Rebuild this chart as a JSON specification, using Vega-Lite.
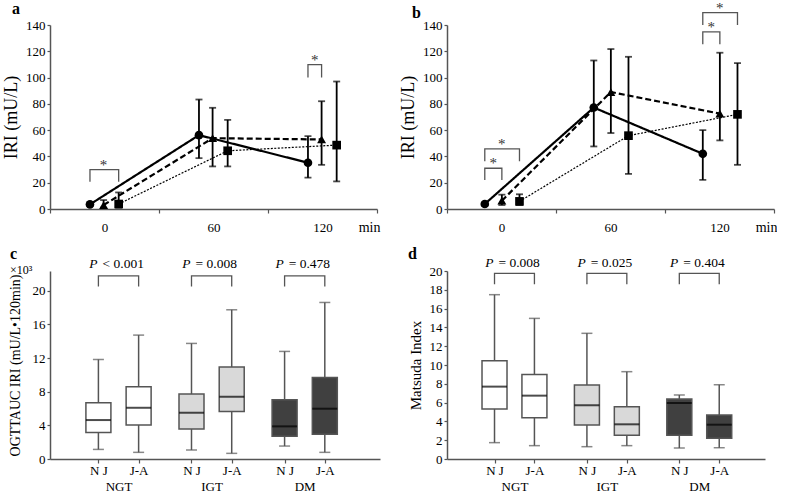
{
  "$schema": "https://vega.github.io/schema/vega-lite/v6.json",
  "padding": {"left": 2, "top": 0, "right": 0, "bottom": 0},
  "columns": 2,
  "spacing": {"row": 62, "column": 67},
  "bounds": "flush",
  "config": {
    "font": "Liberation Serif",
    "view": {"stroke": null},
    "text": {"font": "Liberation Serif"},
    "mark": {"font": "Liberation Serif"},
    "axis": {"grid": false, "labelFont": "Liberation Serif", "titleFont": "Liberation Serif", "domainColor": "#555", "domainWidth": 1.5, "tickColor": "#555", "tickWidth": 1.2, "labelColor": "#000", "titleColor": "#000", "labelFontSize": 13, "titleFontWeight": "normal", "tickSize": 3, "labelPadding": 2, "labelOverlap": false, "labelFlush": false, "labelBound": false},
    "title": {"font": "Liberation Serif", "anchor": "start", "frame": "group", "fontSize": 16, "fontWeight": "bold", "color": "#000", "offset": 2, "subtitleFontSize": 12, "subtitleFontWeight": "normal", "subtitleColor": "#000", "subtitlePadding": 3, "subtitleFont": "Liberation Serif"}
  },
  "datasets": {
    "irA": [
      {"time": 0, "group": "NGT", "mean": 3.5, "lo": 2.5, "hi": 4.5},
      {"time": 0, "group": "IGT", "mean": 3, "lo": 1, "hi": 6.8},
      {"time": 0, "group": "DM", "mean": 3.8, "lo": 1, "hi": 12.6},
      {"time": 60, "group": "NGT", "mean": 56.2, "lo": 38.7, "hi": 83.3},
      {"time": 60, "group": "IGT", "mean": 53.9, "lo": 32.4, "hi": 77},
      {"time": 60, "group": "DM", "mean": 44.3, "lo": 32.4, "hi": 67.8},
      {"time": 120, "group": "NGT", "mean": 35.2, "lo": 23.8, "hi": 55.4},
      {"time": 120, "group": "IGT", "mean": 52.9, "lo": 33.6, "hi": 82},
      {"time": 120, "group": "DM", "mean": 48.6, "lo": 21, "hi": 97}
    ],
    "irB": [
      {"time": 0, "group": "NGT", "mean": 3.8, "lo": 2.5, "hi": 5},
      {"time": 0, "group": "IGT", "mean": 6.3, "lo": 3, "hi": 10.9},
      {"time": 0, "group": "DM", "mean": 5.8, "lo": 3, "hi": 11.2},
      {"time": 60, "group": "NGT", "mean": 77.2, "lo": 47.6, "hi": 113},
      {"time": 60, "group": "IGT", "mean": 89, "lo": 57.8, "hi": 121.7},
      {"time": 60, "group": "DM", "mean": 55.8, "lo": 26.7, "hi": 115.8},
      {"time": 120, "group": "NGT", "mean": 42, "lo": 22.1, "hi": 60},
      {"time": 120, "group": "IGT", "mean": 72.6, "lo": 52.2, "hi": 118.9},
      {"time": 120, "group": "DM", "mean": 72, "lo": 33.6, "hi": 111}
    ],
    "brA": [
      {"id": "a1", "time": 0, "group": "NGT", "v": 20.7, "ord": 1},
      {"id": "a1", "time": 0, "group": "NGT", "v": 30, "ord": 2},
      {"id": "a1", "time": 0, "group": "DM", "v": 30, "ord": 3},
      {"id": "a1", "time": 0, "group": "DM", "v": 20.7, "ord": 4},
      {"id": "a2", "time": 120, "group": "NGT", "v": 100, "ord": 1},
      {"id": "a2", "time": 120, "group": "NGT", "v": 109.8, "ord": 2},
      {"id": "a2", "time": 120, "group": "IGT", "v": 109.8, "ord": 3},
      {"id": "a2", "time": 120, "group": "IGT", "v": 100, "ord": 4}
    ],
    "stA": [
      {"time": 0, "group": "IGT", "v": 30},
      {"time": 120, "group": "NGT|IGT", "v": 109.8}
    ],
    "brB": [
      {"id": "b1", "time": 0, "group": "NGT", "v": 22, "ord": 1},
      {"id": "b1", "time": 0, "group": "NGT", "v": 31, "ord": 2},
      {"id": "b1", "time": 0, "group": "IGT", "v": 31, "ord": 3},
      {"id": "b1", "time": 0, "group": "IGT", "v": 22, "ord": 4},
      {"id": "b2", "time": 0, "group": "NGT", "v": 36.4, "ord": 1},
      {"id": "b2", "time": 0, "group": "NGT", "v": 45.8, "ord": 2},
      {"id": "b2", "time": 0, "group": "DM", "v": 45.8, "ord": 3},
      {"id": "b2", "time": 0, "group": "DM", "v": 36.4, "ord": 4},
      {"id": "b3", "time": 120, "group": "NGT", "v": 125.3, "ord": 1},
      {"id": "b3", "time": 120, "group": "NGT", "v": 134.7, "ord": 2},
      {"id": "b3", "time": 120, "group": "IGT", "v": 134.7, "ord": 3},
      {"id": "b3", "time": 120, "group": "IGT", "v": 125.3, "ord": 4},
      {"id": "b4", "time": 120, "group": "NGT", "v": 140, "ord": 1},
      {"id": "b4", "time": 120, "group": "NGT", "v": 149.4, "ord": 2},
      {"id": "b4", "time": 120, "group": "DM", "v": 149.4, "ord": 3},
      {"id": "b4", "time": 120, "group": "DM", "v": 140, "ord": 4}
    ],
    "stB": [
      {"time": 0, "group": "NGT|IGT", "v": 31},
      {"time": 0, "group": "IGT", "v": 45.8},
      {"time": 120, "group": "NGT|IGT", "v": 134.7},
      {"time": 120, "group": "IGT", "v": 149.4}
    ],
    "boxC": [
      {"group": "NGT", "cohort": "N J", "min": 1.14, "q1": 3.16, "med": 4.63, "q3": 6.69, "max": 11.83},
      {"group": "NGT", "cohort": "J-A", "min": 0.79, "q1": 4.04, "med": 6.09, "q3": 8.59, "max": 14.73},
      {"group": "IGT", "cohort": "N J", "min": 1.07, "q1": 3.56, "med": 5.5, "q3": 7.72, "max": 13.74},
      {"group": "IGT", "cohort": "J-A", "min": 0.67, "q1": 5.66, "med": 7.4, "q3": 10.93, "max": 17.74},
      {"group": "DM", "cohort": "N J", "min": 1.54, "q1": 2.69, "med": 3.88, "q3": 7.05, "max": 12.79},
      {"group": "DM", "cohort": "J-A", "min": 0.79, "q1": 2.93, "med": 5.98, "q3": 9.7, "max": 18.61}
    ],
    "boxD": [
      {"group": "NGT", "cohort": "N J", "min": 1.74, "q1": 5.32, "med": 7.7, "q3": 10.46, "max": 17.48},
      {"group": "NGT", "cohort": "J-A", "min": 1.42, "q1": 4.4, "med": 6.74, "q3": 9.0, "max": 14.96},
      {"group": "IGT", "cohort": "N J", "min": 1.31, "q1": 3.62, "med": 5.71, "q3": 7.87, "max": 13.37},
      {"group": "IGT", "cohort": "J-A", "min": 1.42, "q1": 2.52, "med": 3.69, "q3": 5.57, "max": 9.29},
      {"group": "DM", "cohort": "N J", "min": 1.17, "q1": 2.52, "med": 5.96, "q3": 6.38, "max": 6.81},
      {"group": "DM", "cohort": "J-A", "min": 1.2, "q1": 2.2, "med": 3.65, "q3": 4.68, "max": 7.9}
    ],
    "brC": [
      {"group": "NGT", "cohort": "N J", "v": 20.5, "ord": 1},
      {"group": "NGT", "cohort": "N J", "v": 21.78, "ord": 2},
      {"group": "NGT", "cohort": "J-A", "v": 21.78, "ord": 3},
      {"group": "NGT", "cohort": "J-A", "v": 20.5, "ord": 4},
      {"group": "IGT", "cohort": "N J", "v": 20.5, "ord": 1},
      {"group": "IGT", "cohort": "N J", "v": 21.78, "ord": 2},
      {"group": "IGT", "cohort": "J-A", "v": 21.78, "ord": 3},
      {"group": "IGT", "cohort": "J-A", "v": 20.5, "ord": 4},
      {"group": "DM", "cohort": "N J", "v": 20.5, "ord": 1},
      {"group": "DM", "cohort": "N J", "v": 21.78, "ord": 2},
      {"group": "DM", "cohort": "J-A", "v": 21.78, "ord": 3},
      {"group": "DM", "cohort": "J-A", "v": 20.5, "ord": 4}
    ],
    "brD": [
      {"group": "NGT", "cohort": "N J", "v": 18.6, "ord": 1},
      {"group": "NGT", "cohort": "N J", "v": 19.75, "ord": 2},
      {"group": "NGT", "cohort": "J-A", "v": 19.75, "ord": 3},
      {"group": "NGT", "cohort": "J-A", "v": 18.6, "ord": 4},
      {"group": "IGT", "cohort": "N J", "v": 18.6, "ord": 1},
      {"group": "IGT", "cohort": "N J", "v": 19.75, "ord": 2},
      {"group": "IGT", "cohort": "J-A", "v": 19.75, "ord": 3},
      {"group": "IGT", "cohort": "J-A", "v": 18.6, "ord": 4},
      {"group": "DM", "cohort": "N J", "v": 18.6, "ord": 1},
      {"group": "DM", "cohort": "N J", "v": 19.75, "ord": 2},
      {"group": "DM", "cohort": "J-A", "v": 19.75, "ord": 3},
      {"group": "DM", "cohort": "J-A", "v": 18.6, "ord": 4}
    ],
    "pC": [
      {"group": "NGT", "op": "< 0.001", "v": 23.14},
      {"group": "IGT", "op": "= 0.008", "v": 23.14},
      {"group": "DM", "op": "= 0.478", "v": 23.14}
    ],
    "pD": [
      {"group": "NGT", "op": "= 0.008", "v": 20.8},
      {"group": "IGT", "op": "= 0.025", "v": 20.8},
      {"group": "DM", "op": "= 0.404", "v": 20.8}
    ]
  },
  "concat": [
    {
      "width": 327, "height": 184,
      "title": {"text": "a", "dx": -38, "offset": 2},
      "encoding": {
        "x": {"field": "tx", "type": "quantitative", "scale": {"domain": [-30, 150], "nice": false, "zero": false},
          "axis": {"title": "min", "values": [-30, 0, 30, 60, 90, 120, 150], "tickCount": 20, "labelExpr": "datum.value % 60 === 0 ? datum.label : ''",
            "tickOpacity": {"condition": {"test": "datum.value % 60 === 0", "value": 0}, "value": 1},
            "tickSize": 4, "labelPadding": 8, "titleAnchor": "end", "titleAlign": "right", "titleAngle": 0, "titleX": 330, "titleY": 22, "titleBaseline": "alphabetic", "titleFontSize": 14}}
      },
      "layer": [
        {"data": {"name": "irA"},
          "transform": [{"calculate": "datum.time + (datum.group === 'NGT' ? -8 : datum.group === 'IGT' ? -0.5 : 7.8)", "as": "tx"}],
          "layer": [
            {"mark": {"type": "rule", "color": "black", "strokeWidth": 1.8},
              "encoding": {"y": {"field": "lo", "type": "quantitative", "scale": {"domain": [0, 140]}, "axis": {"title": "IRI (mU/L)", "values": [0, 20, 40, 60, 80, 100, 120, 140], "tickCount": 20, "titleFontSize": 18, "titlePadding": 5}}, "y2": {"field": "hi"}}},
            {"mark": {"type": "tick", "orient": "horizontal", "color": "black", "thickness": 1.8, "size": 7}, "encoding": {"y": {"field": "lo", "type": "quantitative", "scale": {"domain": [0, 140]}}}},
            {"mark": {"type": "tick", "orient": "horizontal", "color": "black", "thickness": 1.8, "size": 7}, "encoding": {"y": {"field": "hi", "type": "quantitative", "scale": {"domain": [0, 140]}}}},
            {"mark": {"type": "line", "color": "black"},
              "encoding": {"y": {"field": "mean", "type": "quantitative", "scale": {"domain": [0, 140]}},
                "strokeDash": {"field": "group", "type": "nominal", "scale": {"domain": ["NGT", "IGT", "DM"], "range": [[1, 0], [6, 3], [2, 1.5]]}, "legend": null},
                "strokeWidth": {"condition": {"test": "datum.group === 'DM'", "value": 1.2}, "value": 2.2}}},
            {"mark": {"type": "point", "filled": true, "color": "black", "opacity": 1},
              "encoding": {"y": {"field": "mean", "type": "quantitative", "scale": {"domain": [0, 140]}},
                "shape": {"field": "group", "type": "nominal", "scale": {"domain": ["NGT", "IGT", "DM"], "range": ["circle", "triangle-up", "square"]}, "legend": null},
                "size": {"condition": {"test": "datum.group === 'IGT'", "value": 80}, "value": 75}}}
          ]},
        {"data": {"name": "brA"},
          "transform": [{"calculate": "datum.time + (datum.group === 'NGT' ? -8 : datum.group === 'IGT' ? -0.5 : 7.8)", "as": "tx"}],
          "mark": {"type": "line", "color": "#555", "strokeWidth": 1.3},
          "encoding": {"y": {"field": "v", "type": "quantitative", "scale": {"domain": [0, 140]}}, "detail": {"field": "id"}, "order": {"field": "ord"}}},
        {"data": {"name": "stA"},
          "transform": [{"calculate": "datum.time + (datum.group === 'NGT|IGT' ? -4.2 : datum.group === 'IGT' ? -0.5 : 0)", "as": "tx"}],
          "mark": {"type": "text", "text": "*", "fontSize": 15, "color": "#333", "baseline": "alphabetic"},
          "encoding": {"y": {"field": "v", "type": "quantitative", "scale": {"domain": [0, 140]}}}}
      ]
    },
    {
      "width": 327, "height": 184,
      "title": {"text": "b", "dx": -35, "offset": -20},
      "encoding": {
        "x": {"field": "tx", "type": "quantitative", "scale": {"domain": [-30, 150], "nice": false, "zero": false},
          "axis": {"title": "min", "values": [-30, 0, 30, 60, 90, 120, 150], "tickCount": 20, "labelExpr": "datum.value % 60 === 0 ? datum.label : ''",
            "tickOpacity": {"condition": {"test": "datum.value % 60 === 0", "value": 0}, "value": 1},
            "tickSize": 4, "labelPadding": 8, "titleAnchor": "end", "titleAlign": "right", "titleAngle": 0, "titleX": 330, "titleY": 22, "titleBaseline": "alphabetic", "titleFontSize": 14}}
      },
      "layer": [
        {"data": {"name": "irB"},
          "transform": [{"calculate": "datum.time + (datum.group === 'NGT' ? -9.2 : datum.group === 'IGT' ? 0.2 : 9.9)", "as": "tx"}],
          "layer": [
            {"mark": {"type": "rule", "color": "black", "strokeWidth": 1.8},
              "encoding": {"y": {"field": "lo", "type": "quantitative", "scale": {"domain": [0, 140]}, "axis": {"title": "IRI (mU/L)", "values": [0, 20, 40, 60, 80, 100, 120, 140], "tickCount": 20, "titleFontSize": 18, "titlePadding": 5}}, "y2": {"field": "hi"}}},
            {"mark": {"type": "tick", "orient": "horizontal", "color": "black", "thickness": 1.8, "size": 7}, "encoding": {"y": {"field": "lo", "type": "quantitative", "scale": {"domain": [0, 140]}}}},
            {"mark": {"type": "tick", "orient": "horizontal", "color": "black", "thickness": 1.8, "size": 7}, "encoding": {"y": {"field": "hi", "type": "quantitative", "scale": {"domain": [0, 140]}}}},
            {"mark": {"type": "line", "color": "black"},
              "encoding": {"y": {"field": "mean", "type": "quantitative", "scale": {"domain": [0, 140]}},
                "strokeDash": {"field": "group", "type": "nominal", "scale": {"domain": ["NGT", "IGT", "DM"], "range": [[1, 0], [6, 3], [2, 1.5]]}, "legend": null},
                "strokeWidth": {"condition": {"test": "datum.group === 'DM'", "value": 1.2}, "value": 2.2}}},
            {"mark": {"type": "point", "filled": true, "color": "black", "opacity": 1},
              "encoding": {"y": {"field": "mean", "type": "quantitative", "scale": {"domain": [0, 140]}},
                "shape": {"field": "group", "type": "nominal", "scale": {"domain": ["NGT", "IGT", "DM"], "range": ["circle", "triangle-up", "square"]}, "legend": null},
                "size": {"condition": {"test": "datum.group === 'IGT'", "value": 80}, "value": 75}}}
          ]},
        {"data": {"name": "brB"},
          "transform": [{"calculate": "datum.time + (datum.group === 'NGT' ? -9.2 : datum.group === 'IGT' ? 0.2 : 9.9)", "as": "tx"}],
          "mark": {"type": "line", "color": "#555", "strokeWidth": 1.3},
          "encoding": {"y": {"field": "v", "type": "quantitative", "scale": {"domain": [0, 140]}}, "detail": {"field": "id"}, "order": {"field": "ord"}}},
        {"data": {"name": "stB"},
          "transform": [{"calculate": "datum.time + (datum.group === 'NGT|IGT' ? -4.5 : datum.group === 'IGT' ? 0.2 : 0)", "as": "tx"}],
          "mark": {"type": "text", "text": "*", "fontSize": 15, "color": "#333", "baseline": "alphabetic"},
          "encoding": {"y": {"field": "v", "type": "quantitative", "scale": {"domain": [0, 140]}}}}
      ]
    },
    {
      "width": 330, "height": 188,
      "title": {"text": "c", "subtitle": "\u2002\u2009×10³", "dx": -40, "offset": -19},
      "encoding": {
        "x": {"field": "pos", "type": "quantitative", "scale": {"domain": [0.3177, 3.7552], "nice": false, "zero": false},
          "axis": {"title": null, "values": [0.784, 1, 1.216, 1.784, 2, 2.216, 2.784, 3, 3.216], "tickCount": 20,
            "labelExpr": "abs(datum.value - round(datum.value)) < 0.01 ? ['', ['NGT','IGT','DM'][round(datum.value) - 1]] : (datum.value - floor(datum.value) > 0.5 ? 'N J' : 'J-A')",
            "tickOpacity": {"condition": {"test": "abs(datum.value - round(datum.value)) < 0.01", "value": 0}, "value": 1},
            "tickSize": 4, "labelPadding": 1, "labelLineHeight": 16.7, "labelFontSize": 13}}
      },
      "layer": [
        {"data": {"name": "boxC"},
          "transform": [{"calculate": "indexof(['NGT','IGT','DM'], datum.group) + 1 + (datum.cohort === 'N J' ? -0.216 : datum.cohort === 'J-A' ? 0.216 : 0)", "as": "pos"}],
          "layer": [
            {"mark": {"type": "rule", "color": "#555", "strokeWidth": 1.5},
              "encoding": {
                "y": {"field": "min", "type": "quantitative", "scale": {"domain": [0, 22.35]}, "axis": {"title": "OGTTAUC IRI (mU/L•120min)", "values": [0, 4, 8, 12, 16, 20], "tickCount": 20, "titleFontSize": 14, "titlePadding": 10}},
                "y2": {"field": "max"}}},
            {"mark": {"type": "bar", "orient": "vertical", "size": 25, "stroke": "#555", "strokeWidth": 1.5},
              "encoding": {"y": {"field": "q1", "type": "quantitative", "scale": {"domain": [0, 22.35]}}, "y2": {"field": "q3"},
                "fill": {"field": "group", "type": "nominal", "scale": {"domain": ["NGT", "IGT", "DM"], "range": ["#ffffff", "#d9d9d9", "#404040"]}, "legend": null}}},
            {"mark": {"type": "tick", "orient": "horizontal", "color": "black", "thickness": 2, "size": 25},
              "encoding": {"y": {"field": "med", "type": "quantitative", "scale": {"domain": [0, 22.35]}}}},
            {"mark": {"type": "tick", "orient": "horizontal", "color": "#555", "thickness": 1.5, "size": 11},
              "encoding": {"y": {"field": "min", "type": "quantitative", "scale": {"domain": [0, 22.35]}}}},
            {"mark": {"type": "tick", "orient": "horizontal", "color": "#555", "thickness": 1.5, "size": 11},
              "encoding": {"y": {"field": "max", "type": "quantitative", "scale": {"domain": [0, 22.35]}}}}
          ]},
        {"data": {"name": "brC"},
          "transform": [{"calculate": "indexof(['NGT','IGT','DM'], datum.group) + 1 + (datum.cohort === 'N J' ? -0.216 : datum.cohort === 'J-A' ? 0.216 : 0)", "as": "pos"}],
          "mark": {"type": "line", "color": "#555", "strokeWidth": 1.3},
          "encoding": {"y": {"field": "v", "type": "quantitative", "scale": {"domain": [0, 22.35]}}, "detail": {"field": "group"}, "order": {"field": "ord"}}},
        {"data": {"name": "pC"},
          "transform": [{"calculate": "indexof(['NGT','IGT','DM'], datum.group) + 1", "as": "pos"}],
          "layer": [
            {"mark": {"type": "text", "text": "P", "font": "Liberation Serif", "fontStyle": "italic", "fontSize": 13.5, "align": "right", "baseline": "middle", "dx": -21, "color": "black"},
              "encoding": {"y": {"field": "v", "type": "quantitative", "scale": {"domain": [0, 22.35]}}}},
            {"mark": {"type": "text", "font": "Liberation Serif", "fontSize": 13.5, "align": "left", "baseline": "middle", "dx": -16, "color": "black"},
              "encoding": {"y": {"field": "v", "type": "quantitative", "scale": {"domain": [0, 22.35]}}, "text": {"field": "op"}}}
          ]}
      ]
    },
    {
      "width": 318, "height": 188,
      "title": {"text": "d", "dx": -39, "offset": -6},
      "encoding": {
        "x": {"field": "pos", "type": "quantitative", "scale": {"domain": [0.3239, 3.6572], "nice": false, "zero": false},
          "axis": {"title": null, "values": [0.784, 1, 1.216, 1.784, 2, 2.216, 2.784, 3, 3.216], "tickCount": 20,
            "labelExpr": "abs(datum.value - round(datum.value)) < 0.01 ? ['', ['NGT','IGT','DM'][round(datum.value) - 1]] : (datum.value - floor(datum.value) > 0.5 ? 'N J' : 'J-A')",
            "tickOpacity": {"condition": {"test": "abs(datum.value - round(datum.value)) < 0.01", "value": 0}, "value": 1},
            "tickSize": 4, "labelPadding": 1, "labelLineHeight": 16.7, "labelFontSize": 13}}
      },
      "layer": [
        {"data": {"name": "boxD"},
          "transform": [{"calculate": "indexof(['NGT','IGT','DM'], datum.group) + 1 + (datum.cohort === 'N J' ? -0.216 : datum.cohort === 'J-A' ? 0.216 : 0)", "as": "pos"}],
          "layer": [
            {"mark": {"type": "rule", "color": "#555", "strokeWidth": 1.5},
              "encoding": {
                "y": {"field": "min", "type": "quantitative", "scale": {"domain": [0, 20]}, "axis": {"title": "Matsuda Index", "values": [0, 2, 4, 6, 8, 10, 12, 14, 16, 18, 20], "tickCount": 20, "titleFontSize": 15, "titlePadding": 6}},
                "y2": {"field": "max"}}},
            {"mark": {"type": "bar", "orient": "vertical", "size": 25, "stroke": "#555", "strokeWidth": 1.5},
              "encoding": {"y": {"field": "q1", "type": "quantitative", "scale": {"domain": [0, 20]}}, "y2": {"field": "q3"},
                "fill": {"field": "group", "type": "nominal", "scale": {"domain": ["NGT", "IGT", "DM"], "range": ["#ffffff", "#d9d9d9", "#404040"]}, "legend": null}}},
            {"mark": {"type": "tick", "orient": "horizontal", "color": "black", "thickness": 2, "size": 25},
              "encoding": {"y": {"field": "med", "type": "quantitative", "scale": {"domain": [0, 20]}}}},
            {"mark": {"type": "tick", "orient": "horizontal", "color": "#555", "thickness": 1.5, "size": 11},
              "encoding": {"y": {"field": "min", "type": "quantitative", "scale": {"domain": [0, 20]}}}},
            {"mark": {"type": "tick", "orient": "horizontal", "color": "#555", "thickness": 1.5, "size": 11},
              "encoding": {"y": {"field": "max", "type": "quantitative", "scale": {"domain": [0, 20]}}}}
          ]},
        {"data": {"name": "brD"},
          "transform": [{"calculate": "indexof(['NGT','IGT','DM'], datum.group) + 1 + (datum.cohort === 'N J' ? -0.216 : datum.cohort === 'J-A' ? 0.216 : 0)", "as": "pos"}],
          "mark": {"type": "line", "color": "#555", "strokeWidth": 1.3},
          "encoding": {"y": {"field": "v", "type": "quantitative", "scale": {"domain": [0, 20]}}, "detail": {"field": "group"}, "order": {"field": "ord"}}},
        {"data": {"name": "pD"},
          "transform": [{"calculate": "indexof(['NGT','IGT','DM'], datum.group) + 1", "as": "pos"}],
          "layer": [
            {"mark": {"type": "text", "text": "P", "font": "Liberation Serif", "fontStyle": "italic", "fontSize": 13.5, "align": "right", "baseline": "middle", "dx": -21, "color": "black"},
              "encoding": {"y": {"field": "v", "type": "quantitative", "scale": {"domain": [0, 20]}}}},
            {"mark": {"type": "text", "font": "Liberation Serif", "fontSize": 13.5, "align": "left", "baseline": "middle", "dx": -16, "color": "black"},
              "encoding": {"y": {"field": "v", "type": "quantitative", "scale": {"domain": [0, 20]}}, "text": {"field": "op"}}}
          ]}
      ]
    }
  ]
}
